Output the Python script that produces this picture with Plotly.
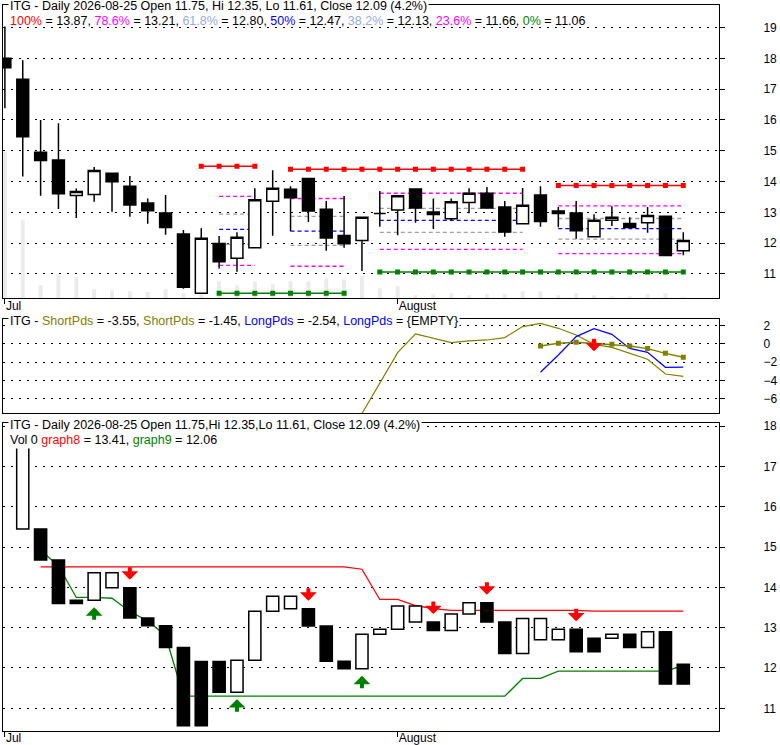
import plotly.graph_objects as go

FONT = "Arial, 'Liberation Sans', sans-serif"

# trading sessions 0..38 = 2026-07-01 .. 2026-08-25
month_ticks = [0, 22]
month_names = ["Jul", "August"]

opens = [18.00, 17.32, 14.95, 14.70, 13.55, 13.58, 14.27, 13.85, 13.30, 12.98,
         12.30, 10.37, 11.99, 11.51, 11.85, 13.36, 13.75, 14.10, 13.10, 12.25,
         12.09, 12.96, 13.08, 13.76, 13.01, 12.79, 13.32, 13.62, 13.17, 12.63,
         13.56, 13.04, 12.98, 12.21, 12.74, 12.64, 12.66, 12.87, 11.75]
highs = [19.03, 17.94, 16.00, 15.89, 13.77, 14.47, 14.27, 14.18, 13.45, 13.56,
         12.43, 12.48, 12.23, 12.35, 13.78, 14.37, 13.85, 14.10, 13.37, 13.53,
         12.86, 13.69, 13.56, 13.78, 13.45, 13.45, 13.78, 13.82, 13.37, 13.79,
         13.85, 13.17, 13.37, 12.94, 13.20, 12.84, 13.17, 12.87, 12.35]
lows = [16.38, 14.16, 13.54, 13.11, 12.82, 13.34, 13.02, 12.86, 12.63, 12.27,
        10.52, 10.37, 11.18, 11.07, 11.83, 12.24, 12.39, 12.69, 11.75, 11.85,
        11.10, 12.53, 12.26, 12.66, 12.46, 12.74, 12.97, 13.13, 12.21, 12.63,
        12.53, 12.52, 12.14, 12.21, 12.56, 12.48, 12.34, 11.60, 11.61]
closes = [17.69, 15.45, 14.68, 13.60, 13.68, 14.36, 13.99, 13.24, 13.05, 12.51,
          10.57, 12.16, 11.40, 12.19, 13.41, 13.78, 13.47, 13.04, 12.17, 11.98,
          12.84, 12.96, 13.54, 13.14, 12.93, 13.34, 13.62, 13.14, 12.36, 13.23,
          12.70, 12.96, 12.40, 12.74, 12.84, 12.51, 12.90, 11.60, 12.09]
volume = [1470, 780, 130, 240, 210, 90, 80, 70, 66, 90,
          50, 40, 170, 130, 170, 140, 170, 170, 200, 190,
          220, 100, 120, 30, 40, 50, 30, 40, 40, 70,
          70, 30, 50, 30, 20, 20, 40, 50, 10]

# fibonacci retracement segments (session index ranges)
fib_hi_start = [11, 16, 31]
fib_hi_end = [14, 29, 38]
fib_hi = [14.50, 14.40, 13.87]
fib_lo_start = [12, 21]
fib_lo_end = [19, 38]
fib_lo = [10.37, 11.06]
fib_mid_start = [12, 16, 21, 31]
fib_mid_end = [14, 19, 29, 38]
fib_786 = [13.52, 13.45, 13.62, 13.21]
fib_618 = [12.94, 12.87, 13.13, 12.80]
fib_500 = [12.45, 12.39, 12.74, 12.47]
fib_382 = [11.96, 11.93, 12.35, 12.13]
fib_236 = [11.28, 11.25, 11.80, 11.66]

# middle panel indicator
short_a_start = 20
short_a = [-7.65, -4.30, -0.95, 1.10, 0.62, 0.15, 0.33, 0.44, 0.70, 1.91,
           2.27, 1.72, 0.99, -0.04, -0.37, -1.03, -1.68, -3.30, -3.55]
short_b_start = 30
short_b = [-0.22, 0.07, 0.18, 0.07, -0.04, -0.22, -0.51, -1.03, -1.45]
long_a_start = 30
long_a = [-3.11, -1.21, 0.81, 1.69, 1.06, -0.48, -0.92, -2.56, -2.54]
mid_sell = [33]

# lower panel: close-to-close boxes, stop lines and signals
box_kind = list("WBBBWWBBBBBBWWWWBBBWWWWBWWBBWWWBBWBWBB")  # sessions 1..38
graph8_start = 2
graph8 = [14.51] * 18 + [14.45, 13.70, 13.70, 13.55, 13.47] + [13.43] * 8 + [13.41] * 6
graph9_start = 2
graph9 = [14.92, 14.53, 13.75, 13.75, 13.73, 13.40, 13.17, 12.80] + [11.30] * 19 \
    + [11.74, 11.74] + [11.92] * 7 + [12.06]
buy_idx = [5, 13, 20]
sell_idx = [7, 17, 24, 27, 32]

n = len(closes)
idx = list(range(n))

# page geometry
W, H = 780, 745
ML, MR, MT, MB = 3, 61, 5, 14
PW, PH = W - ML - MR, H - MT - MB


def px_x(p):
    return (p - ML) / PW


def px_y(p):
    return (H - MB - p) / PH


top_dom = [px_y(298.3), 1.0]
mid_dom = [px_y(413), px_y(319.3)]
bot_dom = [0.0, px_y(423.3)]
x_range = [-0.106, 40.0]
top_range = [10.21, 19.73]
mid_range = [-7.58, 2.71]
bot_range = [10.437, 18.07]

fig = go.Figure()

# volume (faint) behind everything in the top panel
fig.add_trace(go.Bar(x=idx, y=volume, width=0.22, marker_color="#ebebeb",
                     marker_line_width=0, xaxis="x", yaxis="y", hoverinfo="skip"))


def seg(start, end, level):
    xs = list(range(start, end + 1))
    return xs, [level] * len(xs)


for s, e, v in zip(fib_hi_start, fib_hi_end, fib_hi):
    xs, ys = seg(s, e, v)
    fig.add_trace(go.Scatter(x=xs, y=ys, mode="lines+markers", xaxis="x", yaxis="y4",
                             line=dict(color="#ff0000", width=1.5),
                             marker=dict(symbol="square", size=5, color="#ff0000")))
for s, e, v in zip(fib_lo_start, fib_lo_end, fib_lo):
    xs, ys = seg(s, e, v)
    fig.add_trace(go.Scatter(x=xs, y=ys, mode="lines+markers", xaxis="x", yaxis="y4",
                             line=dict(color="#008000", width=1.5),
                             marker=dict(symbol="square", size=5, color="#008000")))
for levels, col in [(fib_786, "#ff00ff"), (fib_618, "#a0a0a0"), (fib_500, "#0000ff"),
                    (fib_382, "#a0a0a0"), (fib_236, "#ff00ff")]:
    for s, e, v in zip(fib_mid_start, fib_mid_end, levels):
        xs, ys = seg(s, e, v)
        fig.add_trace(go.Scatter(x=xs, y=ys, mode="lines", xaxis="x", yaxis="y4",
                                 line=dict(color=col, width=1.3, dash="4px,3px")))

fig.add_trace(go.Candlestick(
    x=idx, open=opens, high=highs, low=lows, close=closes,
    xaxis="x", yaxis="y6", whiskerwidth=0,
    increasing=dict(line=dict(color="black", width=1.5), fillcolor="white"),
    decreasing=dict(line=dict(color="black", width=1.5), fillcolor="black"),
    hoverinfo="skip"))

# middle panel
fig.add_trace(go.Scatter(x=list(range(short_a_start, short_a_start + len(short_a))), y=short_a,
                         mode="lines", xaxis="x2", yaxis="y2",
                         line=dict(color="#808000", width=1.2)))
fig.add_trace(go.Scatter(x=list(range(long_a_start, long_a_start + len(long_a))), y=long_a,
                         mode="lines", xaxis="x2", yaxis="y2",
                         line=dict(color="#0000ff", width=1.2)))
fig.add_trace(go.Scatter(x=list(range(short_b_start, short_b_start + len(short_b))), y=short_b,
                         mode="lines+markers", xaxis="x2", yaxis="y2",
                         line=dict(color="#808000", width=1.5),
                         marker=dict(symbol="square", size=5, color="#808000")))

# bottom panel: stop lines under the boxes
fig.add_trace(go.Scatter(x=list(range(graph8_start, graph8_start + len(graph8))), y=graph8,
                         mode="lines", xaxis="x3", yaxis="y3",
                         line=dict(color="#ff0000", width=1.3)))
fig.add_trace(go.Scatter(x=list(range(graph9_start, graph9_start + len(graph9))), y=graph9,
                         mode="lines", xaxis="x3", yaxis="y3",
                         line=dict(color="#008000", width=1.3)))

box_x = idx[1:]
box_lo = [min(a, b) for a, b in zip(closes[:-1], closes[1:])]
box_hi = [max(a, b) for a, b in zip(closes[:-1], closes[1:])]
fig.add_trace(go.Bar(
    x=box_x, base=box_lo, y=[h - l for h, l in zip(box_hi, box_lo)], width=0.68,
    marker=dict(color=["white" if k == "W" else "black" for k in box_kind],
                line=dict(color="black", width=1.5)),
    xaxis="x3", yaxis="y5", hoverinfo="skip"))

annotations = []
for i in sell_idx:
    annotations.append(dict(x=i, y=box_hi[i - 1], xref="x3", yref="y3", text="",
                            showarrow=True, ax=0, ay=-14, yshift=8, arrowcolor="#ff0000",
                            arrowwidth=4, arrowhead=1, arrowsize=0.7))
for i in buy_idx:
    annotations.append(dict(x=i, y=box_lo[i - 1], xref="x3", yref="y3", text="",
                            showarrow=True, ax=0, ay=14, yshift=-7, arrowcolor="#008000",
                            arrowwidth=4, arrowhead=1, arrowsize=0.7))
for i in mid_sell:
    annotations.append(dict(x=i, y=short_b[i - short_b_start], xref="x2", yref="y2", text="",
                            showarrow=True, ax=0, ay=-14, yshift=-8, arrowcolor="#ff0000",
                            arrowwidth=4, arrowhead=1, arrowsize=0.7))


def c(txt, col):
    return f"<span style='color:{col}'>{txt}</span>"


pct = (closes[-1] / closes[-2] - 1) * 100
head = (f"ITG - Daily 2026-08-25 Open {opens[-1]:.2f}, Hi {highs[-1]:.2f}, "
        f"Lo {lows[-1]:.2f}, Close {closes[-1]:.2f} ({pct:.1f}%)")
head_b = (f"ITG - Daily 2026-08-25 Open {opens[-1]:.2f},Hi {highs[-1]:.2f},"
          f"Lo {lows[-1]:.2f}, Close {closes[-1]:.2f} ({pct:.1f}%)")
fib_names = ["100%", "78.6%", "61.8%", "50%", "38.2%", "23.6%", "0%"]
fib_cols = ["#ff0000", "#ff00ff", "#99aadd", "#0000ff", "#99aadd", "#ff00ff", "#008000"]
fib_vals = [fib_hi[-1], fib_786[-1], fib_618[-1], fib_500[-1], fib_382[-1], fib_236[-1], fib_lo[-1]]
fib_text = ", ".join(f"{c(nm, cl)} = {v:.2f}" for nm, cl, v in zip(fib_names, fib_cols, fib_vals))
mid_text = (f"ITG - {c('ShortPds', '#808000')} = {short_a[-1]:.2f}, "
            f"{c('ShortPds', '#808000')} = {short_b[-1]:.2f}, "
            f"{c('LongPds', '#0000ff')} = {long_a[-1]:.2f}, {c('LongPds', '#0000ff')} = {{EMPTY}}")
bot_text = f"Vol 0 {c('graph8', '#ff0000')} = {graph8[-1]:.2f}, {c('graph9', '#008000')} = {graph9[-1]:.2f}"

for txt, py, bg in [(head, 6, "white"), (fib_text, 21, None), (mid_text, 321, "white"),
                    (head_b, 424.5, "white"), (bot_text, 439.5, "white")]:
    annotations.append(dict(x=px_x(8), y=px_y(py), xref="paper", yref="paper", text=txt,
                            showarrow=False, xanchor="left", yanchor="middle",
                            font=dict(family=FONT, size=12.5, color="black"),
                            bgcolor=bg if bg else "rgba(0,0,0,0)", borderpad=1))

frame = dict(showline=True, mirror=True, linecolor="black", linewidth=1, zeroline=False,
             automargin=False)
grid = dict(showgrid=True, gridcolor="black", gridwidth=1, griddash="1.5px,6.5px")
xcommon = dict(range=x_range, showgrid=False, **frame)
tick_font = dict(family=FONT, size=12, color="black")
ycommon = dict(side="right", ticks="outside", ticklen=5, tickcolor="black",
               tickfont=tick_font, ticklabelstandoff=36, **grid, **frame)
xticks = dict(tickvals=month_ticks, ticktext=month_names, ticks="outside", ticklen=5,
              tickcolor="black", tickfont=tick_font, ticklabelposition="outside right",
              ticklabelstandoff=-4)

fig.update_layout(
    width=W, height=H, template="none",
    margin=dict(l=ML, r=MR, t=MT, b=MB, autoexpand=False),
    paper_bgcolor="white", plot_bgcolor="white",
    showlegend=False, barmode="overlay", boxgap=0.05,
    font=dict(family=FONT, size=12, color="black"),
    xaxis=dict(anchor="y", rangeslider=dict(visible=False), **xticks, **xcommon),
    yaxis=dict(domain=top_dom, range=[0, 2930], visible=False, anchor="x"),
    yaxis4=dict(overlaying="y", anchor="x", range=top_range, tickvals=list(range(11, 20)),
                **ycommon),
    yaxis6=dict(overlaying="y", anchor="x", range=top_range, visible=False),
    xaxis2=dict(anchor="y2", showticklabels=False, ticks="", **xcommon),
    yaxis2=dict(domain=mid_dom, anchor="x2", range=mid_range, tickvals=[-6, -4, -2, 0, 2],
                **ycommon),
    xaxis3=dict(anchor="y3", **xticks, **xcommon),
    yaxis3=dict(domain=bot_dom, anchor="x3", range=bot_range, tickvals=list(range(11, 19)),
                **ycommon),
    yaxis5=dict(overlaying="y3", anchor="x3", range=bot_range, visible=False),
    annotations=annotations,
)

fig.write_html("out.html", config={"displayModeBar": False},
               post_script="document.body.style.margin='0px';")
